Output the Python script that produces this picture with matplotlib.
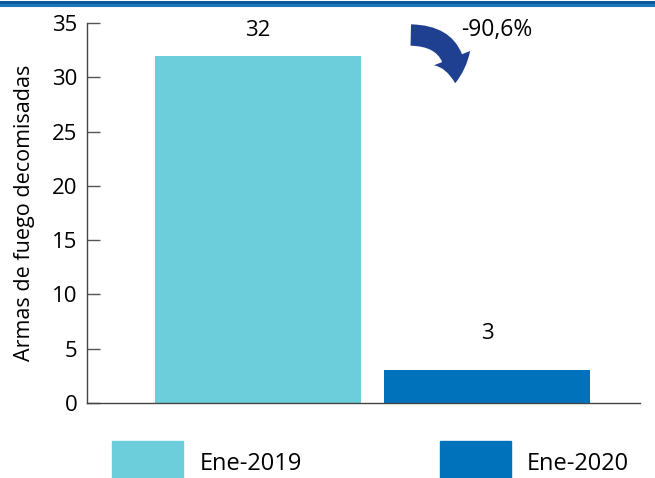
import numpy as np
import matplotlib.pyplot as plt
from matplotlib.patches import FancyArrowPatch, Rectangle
from matplotlib.lines import Line2D

plt.rcParams['font.family'] = ['Open Sans', 'DejaVu Sans']

periods = ['Ene-2019', 'Ene-2020']
values = [32, 3]
colors = ['#6ccddb', '#0071bb']
change_label = '-90,6%'

fig = plt.figure(figsize=(6.55, 4.78), dpi=100)
ax = fig.add_axes([87 / 655, 75 / 478, 553 / 655, 380 / 478])

x = np.arange(len(values))
ax.bar(x, values, width=0.9, color=colors)
offsets = [2.3, 3.4]
for xi, v, off in zip(x, values, offsets):
    ax.text(xi, v + off, str(v), ha='center', va='center', fontsize=16)

ax.set_xlim(-0.747, 1.668)
ax.set_ylim(0, 35)
ax.set_yticks(range(0, 36, 5))
ax.set_xticks([])
ax.tick_params(axis='y', direction='in', length=9, width=1, labelsize=16, pad=7, color='#555555')
ax.spines['top'].set_visible(False)
ax.spines['right'].set_visible(False)
for s in ['left', 'bottom']:
    ax.spines[s].set_color('#444444')
    ax.spines[s].set_linewidth(1)
ax.set_ylabel('Armas de fuego decomisadas', fontsize=15.5, labelpad=12)

# franja superior
fig.add_artist(Line2D([0, 1], [1 - 1.5 / 478, 1 - 1.5 / 478], color='#0a5a9c', lw=2.2, transform=fig.transFigure))
fig.add_artist(Line2D([0, 1], [1 - 4.5 / 478, 1 - 4.5 / 478], color='#1b77b8', lw=2.2, transform=fig.transFigure))

# flecha curva
arrow = FancyArrowPatch((408 / 655, 1 - 35 / 478), (455 / 655, 1 - 86 / 478),
                        transform=fig.transFigure, connectionstyle='arc3,rad=-0.55',
                        arrowstyle='simple,head_width=2.0,head_length=1.3,tail_width=1.1',
                        mutation_scale=14, color='#1f3f91', lw=0)
fig.add_artist(arrow)
fig.text(497 / 655, 1 - 30 / 478, change_label, ha='center', va='center', fontsize=16.5)

# leyenda
leg_pos = [(112, 200), (440, 527)]
for (px, tx), lab, c in zip(leg_pos, periods, colors):
    fig.add_artist(Rectangle((px / 655, 0), 71 / 655, 37 / 478, color=c, transform=fig.transFigure))
    fig.text(tx / 655, 1 - 464 / 478, lab, ha='left', va='center', fontsize=17)

fig.savefig('out.png', dpi=100)
